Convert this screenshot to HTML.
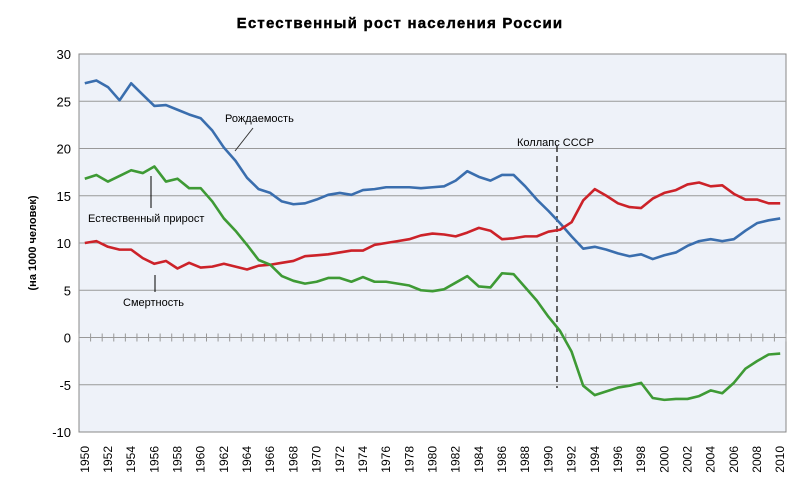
<!DOCTYPE html>
<html><head><meta charset="utf-8"><style>
body{margin:0;background:#fff;width:800px;height:489px;overflow:hidden}
text{font-family:"Liberation Sans",Arial,sans-serif}
</style></head><body>
<svg width="800" height="489" id="chart">
<text x="400" y="28" text-anchor="middle" font-size="15" font-weight="900" letter-spacing="1.2" stroke="#000" stroke-width="0.4">Естественный рост населения России</text>
<rect x="79" y="54" width="707" height="378" fill="#eef2f9" stroke="#888"/>
<g id="grid"></g><g id="ylabels"></g><g id="xlabels"></g><g id="series"></g>
<text transform="translate(36,243) rotate(-90)" text-anchor="middle" font-size="11" font-weight="bold">(на 1000 человек)</text>
<text x="225" y="122" font-size="11">Рождаемость</text>
<line x1="253" y1="128" x2="235" y2="151" stroke="#333"/>
<text x="88" y="222" font-size="11">Естественный прирост</text>
<line x1="151" y1="176" x2="151" y2="208" stroke="#000"/>
<text x="123" y="306" font-size="11">Смертность</text>
<line x1="155" y1="275" x2="155" y2="292" stroke="#000"/>
<text x="517" y="146" font-size="11">Коллапс СССР</text>
</svg>
<script>
const years=[];for(let y=1950;y<=2010;y++)years.push(y);
const births=[26.9,27.2,26.5,25.1,26.9,25.7,24.5,24.6,24.1,23.6,23.2,21.9,20.1,18.7,16.9,15.7,15.3,14.4,14.1,14.2,14.6,15.1,15.3,15.1,15.6,15.7,15.9,15.9,15.9,15.8,15.9,16.0,16.6,17.6,17.0,16.6,17.2,17.2,16.0,14.6,13.4,12.1,10.7,9.4,9.6,9.3,8.9,8.6,8.8,8.3,8.7,9.0,9.7,10.2,10.4,10.2,10.4,11.3,12.1,12.4,12.6];
const deaths=[10.0,10.2,9.6,9.3,9.3,8.4,7.8,8.1,7.3,7.9,7.4,7.5,7.8,7.5,7.2,7.6,7.7,7.9,8.1,8.6,8.7,8.8,9.0,9.2,9.2,9.8,10.0,10.2,10.4,10.8,11.0,10.9,10.7,11.1,11.6,11.3,10.4,10.5,10.7,10.7,11.2,11.4,12.2,14.5,15.7,15.0,14.2,13.8,13.7,14.7,15.3,15.6,16.2,16.4,16.0,16.1,15.2,14.6,14.6,14.2,14.2];
const natural=[16.8,17.2,16.5,17.1,17.7,17.4,18.1,16.5,16.8,15.8,15.8,14.4,12.6,11.3,9.8,8.2,7.7,6.5,6.0,5.7,5.9,6.3,6.3,5.9,6.4,5.9,5.9,5.7,5.5,5.0,4.9,5.1,5.8,6.5,5.4,5.3,6.8,6.7,5.3,3.9,2.2,0.7,-1.5,-5.1,-6.1,-5.7,-5.3,-5.1,-4.8,-6.4,-6.6,-6.5,-6.5,-6.2,-5.6,-5.9,-4.8,-3.3,-2.5,-1.8,-1.7];
const yTicks=[-10,-5,0,5,10,15,20,25,30];
const collapseYear=1991;
const L=79,R=786,T=54,B=432,ymin=-10,ymax=30;
const step=(R-L)/years.length;
const X=i=>L+step*(i+0.5);
const Y=v=>B-(v-ymin)/(ymax-ymin)*(B-T);
const NS="http://www.w3.org/2000/svg";
function mk(tag,attrs,parent){const e=document.createElementNS(NS,tag);for(const k in attrs)e.setAttribute(k,attrs[k]);document.getElementById(parent).appendChild(e);return e;}
yTicks.forEach(v=>{
  if(v!==ymin&&v!==ymax&&v!==0){const g=mk('line',{x1:L,x2:R,y1:Y(v),y2:Y(v),stroke:'#999'},'grid');
  
  }
  const t=mk('text',{x:L-8,y:Y(v)+5,'text-anchor':'end','font-size':'13'},'ylabels');t.textContent=v;
  
  
});
const z=mk('line',{x1:L,x2:R,y1:Y(0),y2:Y(0),stroke:'#999'},'grid');


for(let i=0;i<=years.length;i++){const tk=mk('line',{x1:L+step*i,x2:L+step*i,y1:Y(0)-4,y2:Y(0)+4,stroke:'#999'},'grid');

}
years.forEach((y,i)=>{if(y%2)return;const x=X(i)+4;const t=mk('text',{transform:`translate(${x},446) rotate(-90)`,'text-anchor':'end','font-size':'12'},'xlabels');t.textContent=y;

});
const ci=years.indexOf(collapseYear);
const dl=mk('line',{x1:X(ci)-3,x2:X(ci)-3,y1:146,y2:388,stroke:'#333','stroke-width':1.5,'stroke-dasharray':'6,4'},'series');


[[births,'#3a6eae','births-line'],[deaths,'#cc2229','deaths-line'],[natural,'#3e9a35','natural-growth-line']].forEach(([d,c,n])=>{
  const p=mk('polyline',{points:d.map((v,i)=>X(i)+','+Y(v)).join(' '),fill:'none',stroke:c,'stroke-width':2.6,'stroke-linejoin':'round'},'series');
  
  
});
</script>
</body></html>
